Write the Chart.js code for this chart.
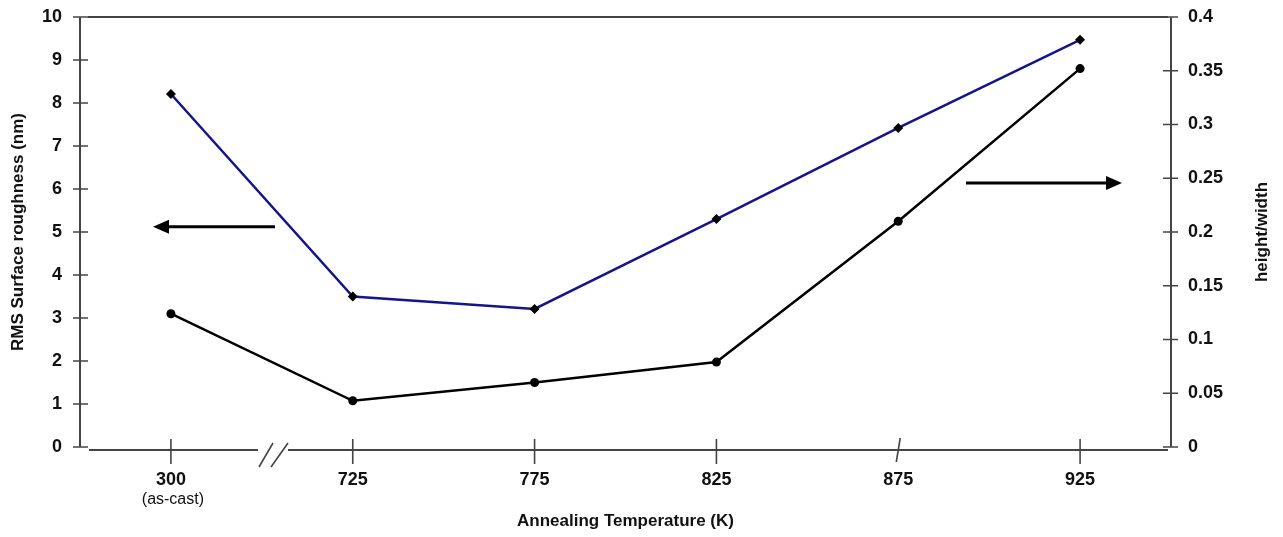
<!DOCTYPE html>
<html>
<head>
<meta charset="utf-8">
<script src="https://cdn.jsdelivr.net/npm/chart.js@4"></script>
<style>
  body { margin: 0; background: #fff; }
  #wrap { width: 1283px; height: 537px; }
</style>
</head>
<body>
<div id="wrap"><canvas id="myChart"></canvas></div>
<script>
const temps = ["300", "725", "775", "825", "875", "925"];
const rmsRoughness = [8.21, 3.5, 3.21, 5.3, 7.42, 9.47];
const heightWidth = [0.124, 0.043, 0.06, 0.079, 0.21, 0.352];
const leftTicks = [0, 1, 2, 3, 4, 5, 6, 7, 8, 9, 10];
const rightTicks = [0, 0.05, 0.1, 0.15, 0.2, 0.25, 0.3, 0.35, 0.4];

const FONT = "'Liberation Sans', Arial, sans-serif";
const AXIS = "#444";

// frame, crossing ticks, axis break, arrows, right title
const extras = {
  id: "extras",
  afterDraw(chart) {
    const ctx = chart.ctx;
    const a = chart.chartArea;
    const x = chart.scales.x, yL = chart.scales.yL, yR = chart.scales.yR;
    const base = a.bottom + 3;
    ctx.save();
    ctx.strokeStyle = AXIS;
    ctx.lineWidth = 2;
    ctx.beginPath();
    // top line
    ctx.moveTo(a.left + 8, a.top);
    ctx.lineTo(a.right - 3, a.top);
    // left and right axis
    ctx.moveTo(a.left, a.top);
    ctx.lineTo(a.left, a.bottom);
    ctx.moveTo(a.right, a.top);
    ctx.lineTo(a.right, a.bottom);
    // x axis with break
    ctx.moveTo(a.left + 9, base);
    ctx.lineTo(258, base);
    ctx.moveTo(288, base);
    ctx.lineTo(a.right - 3, base);
    ctx.stroke();

    ctx.lineWidth = 1.6;
    ctx.beginPath();
    leftTicks.forEach(v => {
      const py = yL.getPixelForValue(v);
      ctx.moveTo(a.left - 7, py);
      ctx.lineTo(a.left + 8, py);
    });
    rightTicks.forEach(v => {
      const py = yR.getPixelForValue(v);
      ctx.moveTo(a.right - 8, py);
      ctx.lineTo(a.right + 7, py);
    });
    temps.forEach((t, i) => {
      const px = x.getPixelForValue(i);
      if (t === "875") {
        ctx.moveTo(px - 2, base + 12);
        ctx.lineTo(px + 2, base - 12);
      } else {
        ctx.moveTo(px, base - 11);
        ctx.lineTo(px, base + 14);
      }
    });
    // break marks
    ctx.moveTo(259, base + 17);
    ctx.lineTo(273, base - 7);
    ctx.moveTo(271, base + 17);
    ctx.lineTo(288, base - 7);
    ctx.stroke();

    // arrows
    ctx.strokeStyle = "#000";
    ctx.fillStyle = "#000";
    ctx.lineWidth = 3;
    function arrow(x1, x2, y) {
      const dir = Math.sign(x2 - x1);
      ctx.beginPath();
      ctx.moveTo(x1, y);
      ctx.lineTo(x2 - dir * 14, y);
      ctx.stroke();
      ctx.beginPath();
      ctx.moveTo(x2, y);
      ctx.lineTo(x2 - dir * 16, y - 7);
      ctx.lineTo(x2 - dir * 16, y + 7);
      ctx.closePath();
      ctx.fill();
    }
    arrow(275, 153, yL.getPixelForValue(5.12));
    arrow(966, 1122, yL.getPixelForValue(6.14));

    // second line of the first label
    ctx.font = "16px " + FONT;
    ctx.fillStyle = "#111";
    ctx.textAlign = "center";
    ctx.textBaseline = "middle";
    ctx.fillText("(as-cast)", x.getPixelForValue(0) + 2, 500);

    // right axis title, reading upward
    ctx.translate(1262, (a.top + a.bottom) / 2);
    ctx.rotate(-Math.PI / 2);
    ctx.font = "bold 17px " + FONT;
    ctx.fillText("height/width", 0, 0);
    ctx.restore();
  }
};

new Chart(document.getElementById("myChart"), {
  type: "line",
  data: {
    labels: temps,
    datasets: [
      {
        label: "RMS Surface roughness",
        data: rmsRoughness,
        yAxisID: "yL",
        borderColor: "#14148c",
        borderWidth: 2.5,
        pointStyle: "rectRot",
        pointRadius: 5,
        pointBackgroundColor: "#000",
        pointBorderWidth: 0,
        tension: 0,
      },
      {
        label: "height/width",
        data: heightWidth,
        yAxisID: "yR",
        borderColor: "#000",
        borderWidth: 2.5,
        pointStyle: "circle",
        pointRadius: 4.5,
        pointBackgroundColor: "#000",
        pointBorderWidth: 0,
        tension: 0,
      },
    ],
  },
  options: {
    responsive: true,
    maintainAspectRatio: false,
    animation: false,
    layout: { padding: { top: 17, left: 0, right: 0, bottom: 0 } },
    plugins: { legend: { display: false }, tooltip: { enabled: false } },
    scales: {
      x: {
        type: "category",
        offset: true,
        grid: { display: false },
        border: { display: false },
        ticks: {
          color: "#111",
          font: { family: FONT, size: 18, weight: "bold" },
          padding: 14,
          maxRotation: 0,
        },
        title: {
          display: true,
          text: "Annealing Temperature (K)",
          color: "#111",
          font: { family: FONT, size: 17, weight: "bold" },
          padding: { top: 0, bottom: 5 },
        },
        afterFit: (s) => { s.height = 90; },
      },
      yL: {
        position: "left",
        min: 0,
        max: 10,
        grid: { display: false },
        border: { display: false },
        afterBuildTicks: (s) => { s.ticks = leftTicks.map(v => ({ value: v })); },
        ticks: {
          color: "#111",
          font: { family: FONT, size: 18, weight: "bold" },
          padding: 10,
        },
        title: {
          display: true,
          text: "RMS Surface roughness (nm)",
          color: "#111",
          font: { family: FONT, size: 17, weight: "bold" },
          padding: { top: 8, bottom: 0 },
        },
        afterFit: (s) => { s.width = 80; s.paddingTop = 0; s.paddingBottom = 0; },
      },
      yR: {
        position: "right",
        min: 0,
        max: 0.4,
        grid: { display: false },
        border: { display: false },
        afterBuildTicks: (s) => { s.ticks = rightTicks.map(v => ({ value: v })); },
        ticks: {
          color: "#111",
          font: { family: FONT, size: 18, weight: "bold" },
          padding: 9,
          callback: (v) => String(Math.round(v * 100) / 100),
        },
        afterFit: (s) => { s.width = 112; s.paddingTop = 0; s.paddingBottom = 0; },
      },
    },
  },
  plugins: [extras],
});
</script>
</body>
</html>
